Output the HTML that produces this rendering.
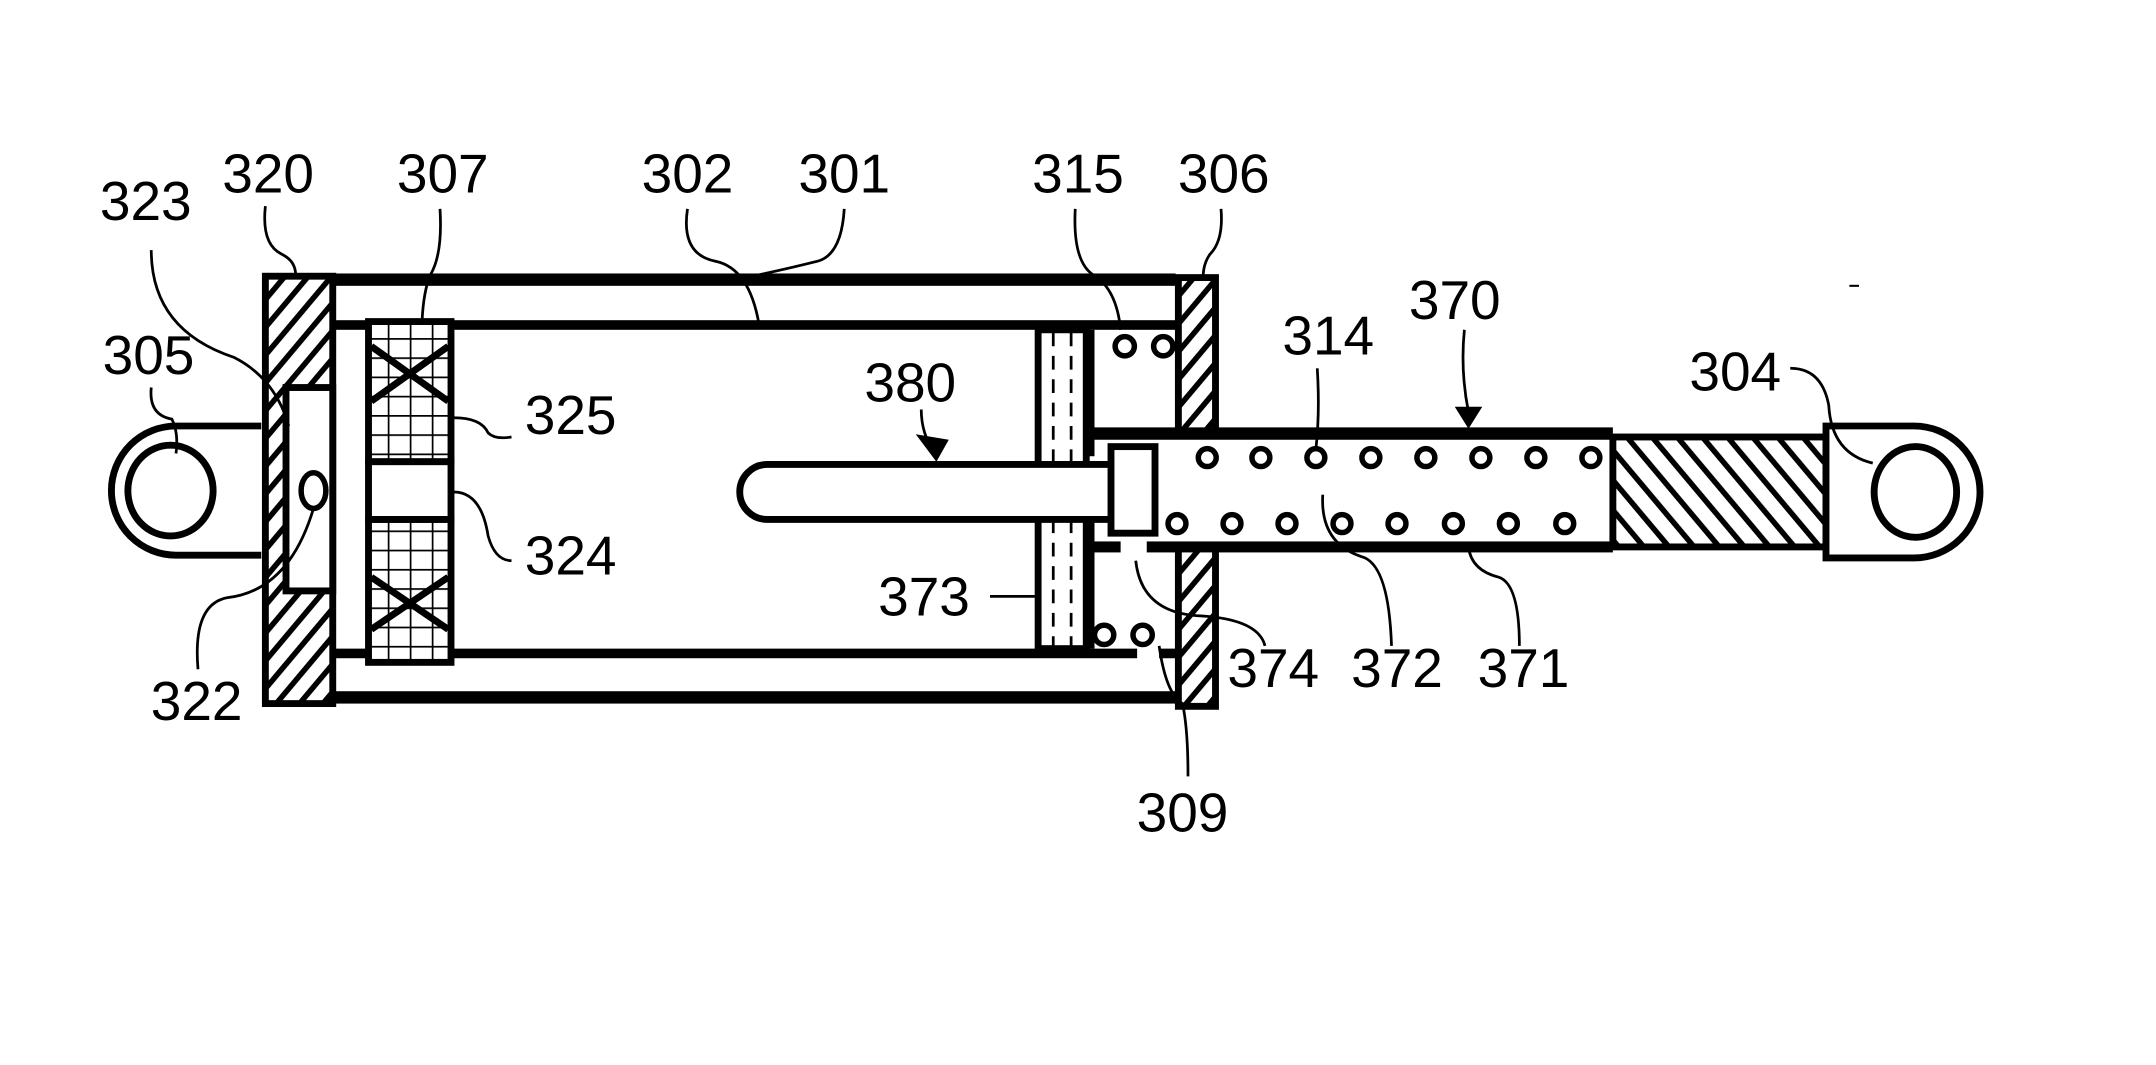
<!DOCTYPE html>
<html><head><meta charset="utf-8"><style>
html,body{margin:0;padding:0;background:#fff;}
svg{display:block;}
text{font-family:"Liberation Sans",sans-serif;font-size:40px;fill:#000;}
</style></head><body>
<svg width="2156" height="1065" viewBox="0 0 1568 775" preserveAspectRatio="none" xmlns="http://www.w3.org/2000/svg">
<defs>
<pattern id="hb" patternUnits="userSpaceOnUse" width="13" height="13" patternTransform="rotate(40)">
<rect width="13" height="13" fill="#fff"/><rect x="0" y="0" width="4" height="13" fill="#000"/></pattern>
<pattern id="hf" patternUnits="userSpaceOnUse" width="14" height="14" patternTransform="rotate(-40)">
<rect width="14" height="14" fill="#fff"/><rect x="0" y="0" width="4" height="14" fill="#000"/></pattern>
<pattern id="grid" patternUnits="userSpaceOnUse" x="266" y="232" width="16" height="14">
<rect width="16" height="14" fill="#fff"/><path d="M0 0H16M0 0V14" stroke="#000" stroke-width="2.5"/></pattern>
</defs>
<g fill="none" stroke="#000">
<rect x="243" y="199" width="612" height="9" fill="#000" stroke="none"/>
<rect x="243" y="503" width="612" height="9" fill="#000" stroke="none"/>
<rect x="243" y="233" width="612" height="7" fill="#000" stroke="none"/>
<rect x="243" y="472" width="584" height="7" fill="#000" stroke="none"/>
<rect x="843" y="472" width="12" height="7" fill="#000" stroke="none"/>
<rect x="193" y="201" width="49" height="311" fill="url(#hb)" stroke-width="5"/>
<rect x="208" y="282" width="34" height="148" fill="#fff" stroke-width="5"/>
<ellipse cx="228" cy="357" rx="9" ry="13" fill="#fff" stroke-width="4"/>
<path d="M190 310 H128 A47 47 0 0 0 128 404 H190" fill="#fff" stroke-width="5"/>
<ellipse cx="124" cy="357" rx="31" ry="33" stroke-width="5"/>
<rect x="268" y="234" width="60" height="102" fill="url(#grid)" stroke-width="5"/>
<rect x="268" y="378" width="60" height="104" fill="url(#grid)" stroke-width="5"/>
<rect x="268" y="336" width="60" height="42" fill="#fff" stroke-width="5"/>
<path d="M270 252 L326 292 M326 252 L270 292 M270 420 L326 458 M326 420 L270 458" stroke-width="5"/>
<rect x="755" y="240" width="35" height="232" fill="#fff" stroke-width="5"/>
<path d="M766 242 V470 M779 242 V470" stroke-width="2" stroke-dasharray="10,7"/>
<rect x="790" y="240" width="6" height="92" fill="#000" stroke="none"/>
<rect x="790" y="374" width="6" height="98" fill="#000" stroke="none"/>
<path d="M808 338 H558 A20 20 0 0 0 558 378 H808" fill="#fff" stroke-width="5"/>
<!-- end cap 306 split -->
<rect x="857" y="202" width="27" height="113" fill="url(#hb)" stroke-width="5"/>
<rect x="857" y="398" width="27" height="116" fill="url(#hb)" stroke-width="5"/>
<rect x="860" y="320" width="21" height="74" fill="#fff" stroke="none"/>
<rect x="793" y="311" width="380" height="9" fill="#000" stroke="none"/>
<rect x="834" y="394" width="339" height="8" fill="#000" stroke="none"/>
<rect x="793" y="394" width="22" height="8" fill="#000" stroke="none"/>
<rect x="808" y="325" width="32" height="63" fill="#fff" stroke-width="5"/>
<rect x="1173" y="318" width="155" height="80" fill="url(#hf)" stroke-width="5"/>
<path d="M1328 310 H1392 A48 48 0 0 1 1392 406 H1328 Z" fill="#fff" stroke-width="5"/>
<ellipse cx="1393" cy="358" rx="30" ry="33" stroke-width="5"/>
<g stroke-width="4" fill="#fff">
<circle cx="818" cy="252" r="7"/><circle cx="846" cy="252" r="7"/>
<circle cx="803" cy="462" r="7"/><circle cx="831" cy="462" r="7"/>
<circle cx="878" cy="333" r="6.5"/><circle cx="917" cy="333" r="6.5"/><circle cx="957" cy="333" r="6.5"/><circle cx="997" cy="333" r="6.5"/><circle cx="1037" cy="333" r="6.5"/><circle cx="1077" cy="333" r="6.5"/><circle cx="1117" cy="333" r="6.5"/><circle cx="1157" cy="333" r="6.5"/>
<circle cx="856" cy="381" r="6.5"/><circle cx="896" cy="381" r="6.5"/><circle cx="936" cy="381" r="6.5"/><circle cx="976" cy="381" r="6.5"/><circle cx="1016" cy="381" r="6.5"/><circle cx="1057" cy="381" r="6.5"/><circle cx="1097" cy="381" r="6.5"/><circle cx="1138" cy="381" r="6.5"/>
</g>
<g stroke-width="2">
<path d="M193 150 Q190 178 205 185 Q215 190 215 200"/>
<path d="M320 152 Q322 185 313 200 Q308 212 307 233"/>
<path d="M500 152 Q495 185 520 190 Q545 195 552 236"/>
<path d="M614 152 Q612 185 595 190 Q575 195 552 200"/>
<path d="M782 152 Q780 190 795 200 Q812 210 815 240"/>
<path d="M888 152 Q890 175 880 185 Q875 192 875 202"/>
<path d="M110 182 Q110 240 170 260 Q200 275 210 310"/>
<path d="M110 282 Q108 302 125 305 Q130 315 128 330"/>
<path d="M330 304 Q350 304 355 315 Q360 320 372 318"/>
<path d="M330 358 Q350 358 355 390 Q360 408 372 408"/>
<path d="M670 298 Q670 316 680 330"/>
<path d="M720 434 H755"/>
<path d="M144 487 Q140 440 165 435 Q210 430 228 370"/>
<path d="M826 408 Q830 445 870 448 Q915 450 920 470"/>
<path d="M958 268 Q960 300 957 327"/>
<path d="M962 360 Q960 395 990 405 Q1010 410 1012 470"/>
<path d="M1068 398 Q1070 415 1090 420 Q1105 425 1105 470"/>
<path d="M843 470 Q848 505 860 512 Q864 530 864 565"/>
<path d="M1302 268 Q1325 268 1330 295 Q1332 330 1362 337"/>
<path d="M1065 240 Q1062 270 1068 300"/>
</g>
<path d="M666 316 L690 320 L681 336 Z" fill="#000" stroke="none"/>
<path d="M1058 296 L1078 296 L1068 312 Z" fill="#000" stroke="none"/>
<path d="M1345 208 H1352" stroke-width="1.5"/>
</g>
<g text-anchor="middle">
<text x="106" y="160">323</text>
<text x="195" y="140">320</text>
<text x="322" y="140">307</text>
<text x="500" y="140">302</text>
<text x="614" y="140">301</text>
<text x="784" y="140">315</text>
<text x="890" y="140">306</text>
<text x="108" y="272">305</text>
<text x="415" y="316">325</text>
<text x="415" y="418">324</text>
<text x="662" y="292">380</text>
<text x="672" y="448">373</text>
<text x="926" y="500">374</text>
<text x="1016" y="500">372</text>
<text x="1108" y="500">371</text>
<text x="143" y="524">322</text>
<text x="860" y="605">309</text>
<text x="966" y="258">314</text>
<text x="1058" y="232">370</text>
<text x="1262" y="284">304</text>
</g>
</svg>
</body></html>
